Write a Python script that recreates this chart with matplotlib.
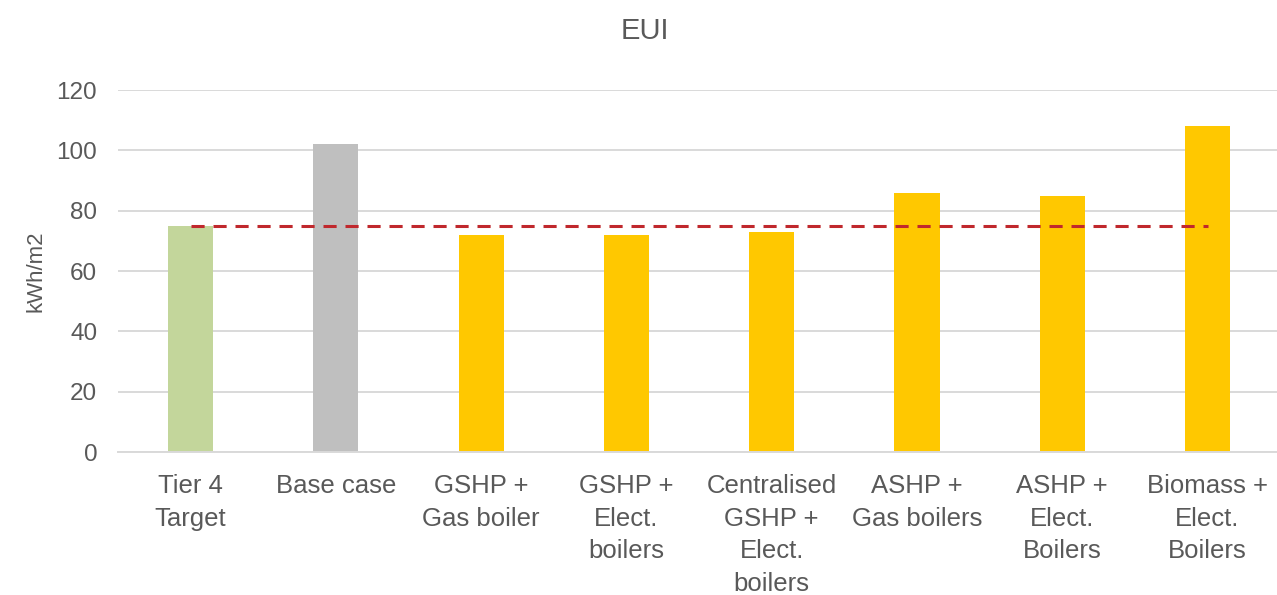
import matplotlib.pyplot as plt

plt.rcParams['font.family'] = ['Liberation Sans', 'DejaVu Sans']

categories = ["Tier 4\nTarget", "Base case", "GSHP +\nGas boiler", "GSHP +\nElect.\nboilers",
              "Centralised\nGSHP +\nElect.\nboilers", "ASHP +\nGas boilers", "ASHP +\nElect.\nBoilers",
              "Biomass +\nElect.\nBoilers"]
eui = [75, 102, 72, 72, 73, 86, 85, 108]
target = [75] * len(categories)
bar_colors = ["#C3D69B", "#BFBFBF"] + ["#FFC800"] * 6

fig = plt.figure(figsize=(12.77, 5.95), dpi=100)
ax = fig.add_axes([0.0924, 0.2403, 0.9101, 0.6084])

x = range(len(categories))
ax.bar(x, eui, width=0.31, color=bar_colors, zorder=2)
ax.plot(x, target, color="#C0282D", lw=2.2, ls=(0, (4.3, 2.9)), zorder=3)

ax.set_xlim(-0.5, len(categories) - 0.5)
ax.set_ylim(0, 120)
ax.set_yticks(range(0, 121, 20))
ax.set_xticks(list(x))
ax.set_xticklabels(categories, linespacing=1.45)
ax.grid(axis="y", color="#D9D9D9", lw=1.4, zorder=0)
for side in ["top", "right", "left"]:
    ax.spines[side].set_visible(False)
ax.spines["bottom"].set_color("#D9D9D9")
ax.spines["bottom"].set_linewidth(1.4)
ax.tick_params(length=0, colors="#595959")
ax.tick_params(axis="x", pad=16, labelsize=18.5)
ax.tick_params(axis="y", pad=15, labelsize=17.5)
ax.set_ylabel("kWh/m2", fontsize=16, color="#595959", labelpad=7)
fig.text(0.505, 0.948, "EUI", ha="center", va="center", fontsize=21, color="#595959")

fig.savefig("out.png", dpi=100)
